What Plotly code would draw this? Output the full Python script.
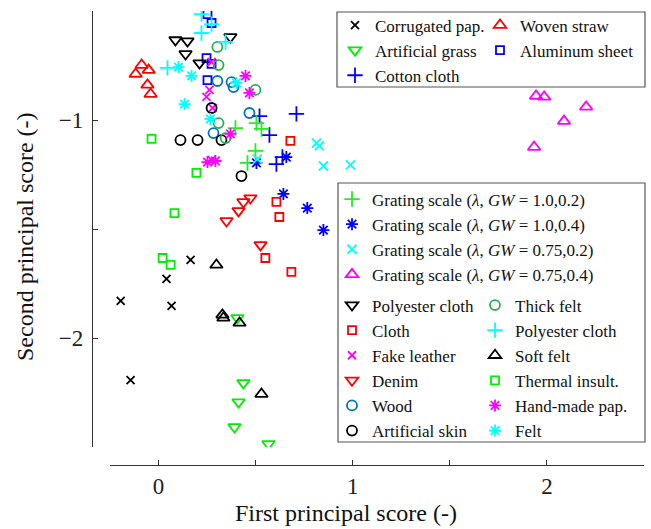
import plotly.graph_objects as go

# ---------------- data (first / second principal scores) ----------------
corrugated_x = [0.165, 0.041, -0.195, 0.067, -0.144]
corrugated_y = [-1.642, -1.729, -1.830, -1.853, -2.193]
woven_x = [-0.087, -0.051, -0.118, -0.057, -0.041]
woven_y = [-0.748, -0.771, -0.789, -0.839, -0.881]
grass_x = [0.406, 0.437, 0.412, 0.391, 0.566]
grass_y = [-1.908, -2.206, -2.294, -2.408, -2.486]
alu_x = [0.252, 0.273, 0.247, 0.273, 0.252]
alu_y = [-0.514, -0.555, -0.716, -0.743, -0.817]
cotton_x = [0.520, 0.710, 0.571, 0.638, 0.607]
cotton_y = [-0.982, -0.972, -1.069, -1.170, -1.202]

g1_x = [0.396, 0.504, 0.530, 0.499, 0.458]
g1_y = [-1.037, -1.014, -1.041, -1.142, -1.197]
g2_x = [0.504, 0.658, 0.643, 0.766, 0.849]
g2_y = [-1.197, -1.170, -1.339, -1.404, -1.505]
g3_x = [0.813, 0.828, 0.509, 0.849, 0.988]
g3_y = [-1.106, -1.119, -1.179, -1.211, -1.206]
g4_x = [1.944, 1.986, 2.088, 2.202, 1.934]
g4_y = [-0.890, -0.894, -1.005, -0.940, -1.124]

poly_black_x = [0.087, 0.149, 0.139, 0.370, 0.211]
poly_black_y = [-0.633, -0.638, -0.697, -0.619, -0.739]
cloth_x = [0.679, 0.607, 0.622, 0.550, 0.684]
cloth_y = [-1.096, -1.376, -1.445, -1.633, -1.697]
fake_x = [0.262, 0.247, 0.278, 0.273, 0.273]
fake_y = [-0.862, -0.894, -0.945, -0.734, -1.183]
denim_x = [0.473, 0.437, 0.412, 0.350, 0.525]
denim_y = [-1.358, -1.376, -1.417, -1.463, -1.573]
wood_x = [0.303, 0.376, 0.386, 0.468, 0.283]
wood_y = [-0.821, -0.826, -0.849, -0.968, -1.060]
askin_x = [0.273, 0.113, 0.201, 0.324, 0.427]
askin_y = [-0.945, -1.092, -1.092, -1.092, -1.257]

thick_x = [0.303, 0.309, 0.499, 0.309, 0.345]
thick_y = [-0.665, -0.748, -0.862, -1.014, -1.083]
poly_cyan_x = [0.221, 0.221, 0.345, 0.046, 0.273]
poly_cyan_y = [-0.514, -0.601, -0.642, -0.761, -0.560]
soft_x = [0.298, 0.329, 0.334, 0.417, 0.530]
soft_y = [-1.665, -1.894, -1.908, -1.931, -2.257]
thermal_x = [-0.036, 0.195, 0.082, 0.021, 0.062]
thermal_y = [-1.087, -1.243, -1.427, -1.633, -1.665]
handmade_x = [0.448, 0.468, 0.370, 0.252, 0.293]
handmade_y = [-0.798, -0.876, -1.064, -1.193, -1.188]
felt_x = [0.103, 0.170, 0.134, 0.267, 0.401]
felt_y = [-0.757, -0.798, -0.927, -0.995, -0.830]

x_tickvals = [0, 0.5, 1, 1.5, 2, 2.5]
x_ticktext = ["0", "", "1", "", "2", ""]
y_tickvals = [-2.5, -2, -1.5, -1, -0.5]
y_ticktext = ["", "\u22122", "", "\u22121", ""]

# ---------------- styling ----------------
FONT = "Liberation Serif"
BLACK, GREEN, BLUE, RED = "#000000", "#00ee00", "#0000ff", "#ff0000"
CYAN, MAGENTA, WOOD, THICK = "#00ffff", "#ff00ff", "#0072bd", "#2eaa55"

series = [
    # name, x, y, symbol, color, size, legend
    ("Corrugated pap.", corrugated_x, corrugated_y, "x-thin-open", BLACK, 8, "legend"),
    ("Artificial grass", grass_x, grass_y, "triangle-down-open", GREEN, 11, "legend"),
    ("Cotton cloth", cotton_x, cotton_y, "cross-thin-open", BLUE, 11, "legend"),
    ("Woven straw", woven_x, woven_y, "triangle-up-open", RED, 11, "legend2"),
    ("Aluminum sheet", alu_x, alu_y, "square-open", BLUE, 8, "legend2"),
    ("Grating scale (<i>\u03bb</i>, <i>GW</i> = 1.0,0.2)", g1_x, g1_y, "cross-thin-open", "#22ee22", 11, "legend3"),
    ("Grating scale (<i>\u03bb</i>, <i>GW</i> = 1.0,0.4)", g2_x, g2_y, "asterisk-open", BLUE, 10, "legend3"),
    ("Grating scale (<i>\u03bb</i>, <i>GW</i> = 0.75,0.2)", g3_x, g3_y, "x-thin-open", CYAN, 9, "legend3"),
    ("Grating scale (<i>\u03bb</i>, <i>GW</i> = 0.75,0.4)", g4_x, g4_y, "triangle-up-open", MAGENTA, 11, "legend3"),
    ("Polyester cloth", poly_black_x, poly_black_y, "triangle-down-open", BLACK, 11, "legend4"),
    ("Cloth", cloth_x, cloth_y, "square-open", RED, 8, "legend4"),
    ("Fake leather", fake_x, fake_y, "x-thin-open", MAGENTA, 8, "legend4"),
    ("Denim", denim_x, denim_y, "triangle-down-open", RED, 11, "legend4"),
    ("Wood", wood_x, wood_y, "circle-open", WOOD, 10, "legend4"),
    ("Artificial skin", askin_x, askin_y, "circle-open", BLACK, 10, "legend4"),
    ("Thick felt", thick_x, thick_y, "circle-open", THICK, 10, "legend5"),
    ("Polyester cloth", poly_cyan_x, poly_cyan_y, "cross-thin-open", CYAN, 11, "legend5"),
    ("Soft felt", soft_x, soft_y, "triangle-up-open", BLACK, 11, "legend5"),
    ("Thermal insult.", thermal_x, thermal_y, "square-open", GREEN, 8, "legend5"),
    ("Hand-made pap.", handmade_x, handmade_y, "asterisk-open", MAGENTA, 10, "legend5"),
    ("Felt", felt_x, felt_y, "asterisk-open", CYAN, 10, "legend5"),
]

fig = go.Figure()
for name, xs, ys, sym, col, sz, leg in series:
    fig.add_trace(go.Scatter(
        x=xs, y=ys, mode="markers", name=name, legend=leg,
        marker=dict(symbol=sym, size=sz, color=col, line=dict(color=col, width=1.8)),
    ))

W, H = 651, 529
ML, MR, MT, MB = 92, 7, 11, 64
PW, PH = W - ML - MR, H - MT - MB


def px(xpix):
    return (xpix - ML) / PW


def py(ypix):
    return (H - MB - ypix) / PH


leg_common = dict(bgcolor="rgba(0,0,0,0)", borderwidth=0, xanchor="left", yanchor="top",
                  font=dict(family=FONT, size=17, color="#111"), orientation="v",
                  tracegroupgap=0, itemsizing="trace")

axis_common = dict(showgrid=False, zeroline=False, showline=True, linecolor="#333",
                   linewidth=1.3, ticks="inside", ticklen=5, tickwidth=1.3, tickcolor="#333",
                   tickfont=dict(family=FONT, size=23, color="#222"), anchor="free", position=0)

fig.update_layout(
    width=W, height=H,
    margin=dict(l=ML, r=MR, t=MT, b=MB, pad=0),
    paper_bgcolor="white", plot_bgcolor="white",
    font=dict(family=FONT),
    xaxis=dict(range=[-0.25, 2.5], domain=[px(110), 1], tickvals=x_tickvals, ticktext=x_ticktext,
               **axis_common),
    yaxis=dict(range=[-2.5, -0.5], domain=[py(447), 1], tickvals=y_tickvals, ticktext=y_ticktext,
               ticklabelstandoff=4, **axis_common),
    legend=dict(x=px(335), y=py(7.5), **leg_common),
    legend2=dict(x=px(480), y=py(7.5), **leg_common),
    legend3=dict(x=px(332), y=py(181.5), **leg_common),
    legend4=dict(x=px(332), y=py(287.5), **leg_common),
    legend5=dict(x=px(475), y=py(287.5), **leg_common),
    shapes=[
        dict(type="rect", xref="paper", yref="paper", x0=px(337), x1=px(645), y0=py(87), y1=py(12),
             line=dict(color="#555", width=1.2), layer="below"),
        dict(type="rect", xref="paper", yref="paper", x0=px(338), x1=px(645), y0=py(442), y1=py(183),
             line=dict(color="#555", width=1.2), layer="below"),
    ],
    annotations=[
        dict(text="First principal score (-)", xref="paper", yref="paper", x=px(346), y=py(513),
             showarrow=False, xanchor="center", yanchor="middle",
             font=dict(family=FONT, size=24, color="#111")),
        dict(text="Second principal score (-)", xref="paper", yref="paper", x=px(25), y=py(237),
             showarrow=False, xanchor="center", yanchor="middle", textangle=-90,
             font=dict(family=FONT, size=24, color="#111")),
    ],
    showlegend=True,
)

fig.write_html("out.html")
